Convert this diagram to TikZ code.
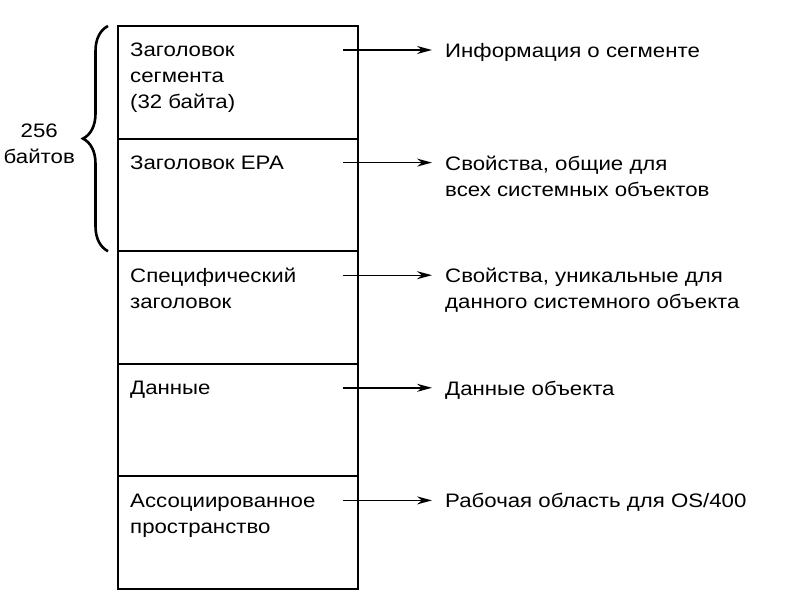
\documentclass[tikz,border=0pt]{standalone}
\usepackage{fontspec}
\setmainfont{Liberation Sans}[FakeStretch=1.14]
\usetikzlibrary{positioning,calc,arrows.meta,decorations.pathreplacing}

\begin{document}
\begin{tikzpicture}[x=1pt, y=-1pt,
        cell/.style={draw, line width=2pt, rectangle, minimum width=240pt, minimum height=112.6pt, inner sep=0pt, outer sep=0pt},
        txt/.style={anchor=north west, align=left, inner xsep=12pt, inner ysep=0pt},
        desc/.style={anchor=north west, align=left, inner xsep=13pt, inner ysep=0pt},
        arrow/.style={-{Stealth[length=15pt,width=8pt]}, line width=1.4pt},
        brace/.style={decorate, decoration={brace, amplitude=25pt}, line width=2.6pt},
        every node/.style={font=\fontsize{19.5}{26}\selectfont},
        node distance=0pt
    ]
    \useasboundingbox (0,0) rectangle (795,596);

    % Cells
    \node[cell] (hdr) at (238,82.3) {};
    \node[cell, below=of hdr] (epa) {};
    \node[cell, below=of epa] (spec) {};
    \node[cell, below=of spec] (data) {};
    \node[cell, below=of data] (assoc) {};

    % Cell texts
    \node[txt] (thdr) at ([yshift=-17pt]hdr.north west) {Заголовок\\сегмента\\(32 байта)};
    \node[txt] (tepa) at ([yshift=-17pt]epa.north west) {Заголовок ЕРА};
    \node[txt] (tspec) at ([yshift=-17pt]spec.north west) {Специфический\\заголовок};
    \node[txt] (tdata) at ([yshift=-17pt]data.north west) {Данные};
    \node[txt] (tassoc) at ([yshift=-17pt]assoc.north west) {Ассоциированное\\пространство};

    % Descriptions
    \coordinate (rcol) at (432,0);
    \node[desc] (dhdr) at (thdr.north west -| rcol) {Информация о сегменте};
    \node[desc] (depa) at (tepa.north west -| rcol) {Свойства, общие для\\всех системных объектов};
    \node[desc] (dspec) at (tspec.north west -| rcol) {Свойства, уникальные для\\данного системного объекта};
    \node[desc] (ddata) at (tdata.north west -| rcol) {Данные объекта};
    \node[desc] (dassoc) at (tassoc.north west -| rcol) {Рабочая область для OS/400};

    % Arrows
    \coordinate (shdr) at ($(thdr.north west -| hdr.east)+(-15pt,-7pt)$);
    \coordinate (sepa) at ($(tepa.north west -| epa.east)+(-15pt,-7pt)$);
    \coordinate (sspec) at ($(tspec.north west -| spec.east)+(-15pt,-7pt)$);
    \coordinate (sdata) at ($(tdata.north west -| data.east)+(-15pt,-7pt)$);
    \coordinate (sassoc) at ($(tassoc.north west -| assoc.east)+(-15pt,-7pt)$);
    \draw[arrow] (shdr) -- (shdr -| dhdr.west);
    \draw[arrow] (sepa) -- (sepa -| depa.west);
    \draw[arrow] (sspec) -- (sspec -| dspec.west);
    \draw[arrow] (sdata) -- (sdata -| ddata.west);
    \draw[arrow] (sassoc) -- (sassoc -| dassoc.west);

    % Brace
    \coordinate (btop) at ($(hdr.north west)+(-10pt,0)$);
    \coordinate (bbot) at ($(epa.south west)+(-10pt,0)$);
    \draw[brace] (bbot) -- (btop) coordinate[midway] (bmid);
    \node[left=33pt of bmid, align=center, inner sep=0pt, yshift=-5pt] (bytes) {256\\байтов};

\end{tikzpicture}
\end{document}
